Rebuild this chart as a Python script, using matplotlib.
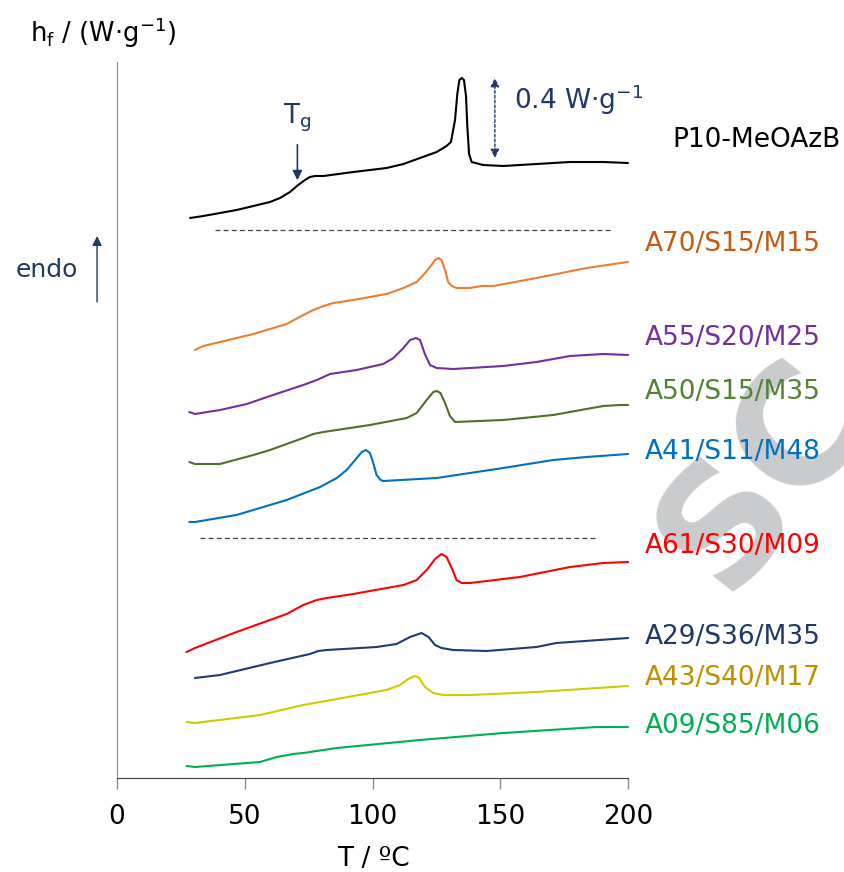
import matplotlib
matplotlib.use('Agg')
import matplotlib.pyplot as plt

# DSC heating traces, T in degC, heat flow in W/g (curves shifted vertically)
t_p10 = [28.6, 33.8, 46.8, 53.4, 59.9, 63.8, 67.7, 70.9, 73.6, 75.5, 77.5, 80.8, 92.5, 105.5, 112.1,
         118.6, 125.1, 129, 130.7, 132.3, 133.2, 134.0, 134.9, 135.8, 136.6, 137.1, 137.8, 138.8,
         143.3, 151.2, 164.2, 177.3, 190.3, 200]
h_p10 = [2.80, 2.81, 2.84, 2.86, 2.88, 2.90, 2.93, 2.965, 2.99, 3.005, 3.01, 3.01, 3.03, 3.05, 3.07,
         3.10, 3.13, 3.16, 3.18, 3.29, 3.42, 3.49, 3.50, 3.49, 3.41, 3.26, 3.12, 3.08,
         3.065, 3.06, 3.07, 3.08, 3.08, 3.075]

t_a70 = [30.5, 33.8, 40.3, 53.4, 66.4, 72.9, 76.8, 80.8, 84.7, 92.5, 105.5, 112.1, 117.3, 119.9, 122.5,
         124.5, 125.8, 127, 128.4, 129.6, 131, 132.9, 138.2, 142.7, 147.3, 164.2, 183.8, 200]
h_a70 = [2.14, 2.16, 2.18, 2.22, 2.27, 2.315, 2.34, 2.36, 2.375, 2.39, 2.42, 2.45, 2.48, 2.515, 2.555,
         2.59, 2.60, 2.59, 2.54, 2.48, 2.46, 2.45, 2.45, 2.46, 2.46, 2.50, 2.55, 2.58]

t_a55 = [28.3, 30.5, 40.3, 50.8, 59.9, 72.9, 78.2, 83.4, 88.6, 93.8, 104.2, 108.2, 112.1, 114.7, 117,
         118.6, 120.5, 122.5, 125.1, 131.6, 151.2, 164.2, 177.3, 190.3, 200]
h_a55 = [1.83, 1.82, 1.84, 1.87, 1.91, 1.965, 1.99, 2.02, 2.03, 2.04, 2.07, 2.10, 2.15, 2.19, 2.20,
         2.19, 2.12, 2.065, 2.05, 2.045, 2.06, 2.08, 2.11, 2.12, 2.115]

t_a50 = [28.3, 30.5, 40.3, 53.4, 59.9, 72.9, 76.8, 80.8, 99, 113.4, 117.3, 121.2, 123.8, 125.1, 126.6,
         128.4, 130.3, 132.3, 151.2, 170.7, 190.3, 196.9, 200]
h_a50 = [1.58, 1.57, 1.57, 1.615, 1.64, 1.70, 1.72, 1.73, 1.765, 1.80, 1.825, 1.89, 1.93, 1.935, 1.925,
         1.875, 1.81, 1.78, 1.79, 1.815, 1.86, 1.865, 1.865]

t_a41 = [28.3, 30.5, 46.8, 66.4, 79.5, 86, 89.9, 93.2, 95.8, 97.4, 99, 100.3, 101.6, 103.2, 104.2,
         125.1, 151.2, 170.7, 183.8, 200]
h_a41 = [1.28, 1.28, 1.315, 1.39, 1.455, 1.50, 1.54, 1.59, 1.63, 1.64, 1.625, 1.575, 1.515, 1.49, 1.485,
         1.50, 1.55, 1.59, 1.605, 1.62]

t_a61 = [27.2, 30.5, 46.8, 66.4, 72.9, 78.2, 82.1, 92.5, 112.1, 117.3, 121.2, 124.5, 127, 129, 131,
         132.9, 134.9, 138.2, 157.7, 177.3, 190.3, 200]
h_a61 = [0.63, 0.65, 0.73, 0.82, 0.865, 0.89, 0.90, 0.92, 0.965, 0.99, 1.04, 1.095, 1.12, 1.105, 1.05,
         0.99, 0.975, 0.975, 1.005, 1.055, 1.075, 1.08]

t_a29 = [30.5, 40.3, 59.9, 75.5, 78.8, 82.1, 101.6, 109.4, 114.7, 119.2, 121.9, 124.5, 127, 131.6,
         144.7, 164.2, 172, 200]
h_a29 = [0.50, 0.515, 0.575, 0.62, 0.635, 0.64, 0.655, 0.67, 0.705, 0.725, 0.705, 0.665, 0.65, 0.64,
         0.635, 0.655, 0.675, 0.70]

t_a43 = [27.2, 30.5, 56, 72.9, 92.5, 105.5, 110.8, 114, 116.6, 118.3, 120.5, 123.8, 127.7, 138.2,
         164.2, 200]
h_a43 = [0.28, 0.275, 0.315, 0.365, 0.41, 0.44, 0.465, 0.495, 0.51, 0.50, 0.455, 0.425, 0.415, 0.415,
         0.43, 0.46]

t_a09 = [27.2, 30.5, 56, 62.5, 69, 72.9, 86, 118.6, 151.2, 187.7, 200]
h_a09 = [0.06, 0.055, 0.08, 0.105, 0.12, 0.125, 0.15, 0.19, 0.225, 0.255, 0.255]

names = ['P10-MeOAzB', 'A70/S15/M15', 'A55/S20/M25', 'A50/S15/M35', 'A41/S11/M48',
         'A61/S30/M09', 'A29/S36/M35', 'A43/S40/M17', 'A09/S85/M06']
line_colors = ['black', '#ED7D31', '#7030A0', '#4F6F2A', '#0070C0',
               '#FF0000', '#1F3A78', '#CCCC00', '#00B050']
text_colors = ['black', '#C55A11', '#7030A0', '#538135', '#0070C0',
               '#FF0000', '#1F3864', '#BF9000', '#00B050']
label_h = [3.19, 2.67, 2.20, 1.93, 1.63, 1.16, 0.705, 0.50, 0.26]

navy = '#1F3864'

fig = plt.figure(figsize=(8.44, 8.72), dpi=100)

# faint watermark behind everything
fig.text(0.905, 0.455, 'SC', rotation=51.5, fontsize=118, fontweight='bold', color='#cacbcd',
         ha='center', va='center', zorder=-5)

ax = fig.add_axes([117/844, 94/872, 511/844, 716/872])
ax.patch.set_alpha(0)

curves = [(t_p10, h_p10), (t_a70, h_a70), (t_a55, h_a55), (t_a50, h_a50), (t_a41, h_a41),
          (t_a61, h_a61), (t_a29, h_a29), (t_a43, h_a43), (t_a09, h_a09)]
for (t, h), c in zip(curves, line_colors):
    ax.plot(t, h, color=c, lw=1.5, solid_joinstyle='round', solid_capstyle='round', clip_on=False)

# separators between groups
ax.plot([38.4, 192.9], [2.74, 2.74], color='#404040', lw=0.9, ls=(0, (4, 2.5)))
ax.plot([32.5, 187.1], [1.20, 1.20], color='#404040', lw=0.9, ls=(0, (4, 2.5)))

for i, name in enumerate(names):
    x = 217.2 if i == 0 else 206.7
    ax.text(x, label_h[i], name, color=text_colors[i], fontsize=19, va='center', ha='left',
            clip_on=False)

# Tg arrow
ax.annotate('', xy=(70.6, 2.975), xytext=(70.6, 3.18),
            arrowprops=dict(arrowstyle='-|>', color=navy, lw=1.2, mutation_scale=14))
ax.text(70.6, 3.30, r'T$_\mathregular{g}$', color=navy, fontsize=19, ha='center', va='center')

# scale bar 0.4 W/g
ax.annotate('', xy=(147.9, 3.50), xytext=(147.9, 3.10),
            arrowprops=dict(arrowstyle='<|-|>', color=navy, lw=1.0, ls=(0, (2, 1.5)),
                            mutation_scale=13, shrinkA=0, shrinkB=0))
ax.text(155.5, 3.39, r'0.4 W·g$^{\mathregular{-1}}$', color=navy, fontsize=19, ha='left', va='center')

# endo arrow
ax.annotate('', xy=(-7.8, 2.71), xytext=(-7.8, 2.38),
            arrowprops=dict(arrowstyle='-|>', color=navy, lw=1.0, mutation_scale=14,
                            shrinkA=0, shrinkB=0), annotation_clip=False)
ax.text(-27.4, 2.54, 'endo', color=navy, fontsize=18, ha='center', va='center')

ax.set_xlim(0, 200)
ax.set_ylim(0, 3.58)
ax.set_xticks([0, 50, 100, 150, 200])
ax.set_yticks([])
ax.spines['top'].set_visible(False)
ax.spines['right'].set_visible(False)
ax.spines['left'].set_color('#8c8c8c')
ax.spines['bottom'].set_color('#404040')
ax.tick_params(axis='x', direction='out', length=8, width=1, color='#8c8c8c',
               labelsize=19, pad=11)

fig.text(373/844, 1 - 846/872, 'T / ºC', fontsize=19, ha='center', va='top')
fig.text(30/844, 1 - 33/872, r'h$_\mathregular{f}$ / (W·g$^{\mathregular{-1}}$)', fontsize=18.5,
         ha='left', va='center')

fig.savefig('out.png', dpi=100)
